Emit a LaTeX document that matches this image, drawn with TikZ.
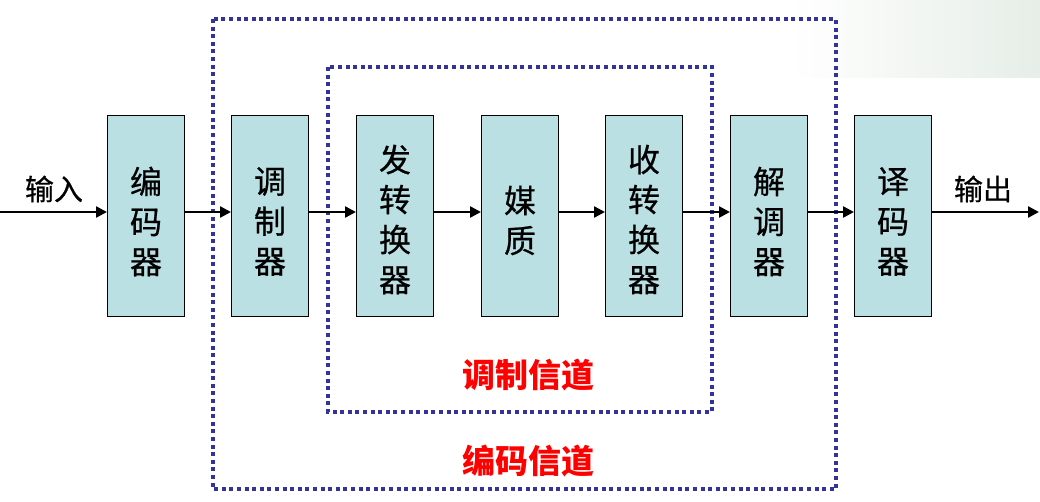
\documentclass[tikz,border=0pt]{standalone}
\usepackage{fontspec}
\newfontfamily\cjk{Noto Sans CJK SC}
\newfontfamily\cjkdark[FakeBold=0.6]{Noto Sans CJK SC}
\usetikzlibrary{arrows.meta}
\definecolor{boxfill}{RGB}{187,224,227}
\definecolor{dotblue}{RGB}{51,51,153}
\definecolor{chanred}{RGB}{255,0,0}
\definecolor{bgtint}{RGB}{230,238,231}
\tikzset{
  blockbox/.style={draw=black, line width=1pt, fill=boxfill, minimum width=77pt, minimum height=201pt,
    inner sep=0pt},
  blocktext/.style={align=center, inner sep=0pt, font=\cjkdark\fontsize{32}{40}\selectfont},
  sigarrow/.style={line width=2.4pt, -{Triangle[length=11pt,width=11pt]}},
  dotframe/.style={draw=dotblue, line width=4pt, dash pattern=on 4pt off 3.6pt},
  iolabel/.style={font=\cjkdark\fontsize{29}{30}\selectfont, inner sep=0pt},
  chanlabel/.style={font=\cjk\bfseries\fontsize{33}{34}\selectfont, text=chanred, inner sep=0pt}
}
\begin{document}
\begin{tikzpicture}[x=1pt,y=-1pt]
\useasboundingbox (0,0) rectangle (1040,501);
\shade[left color=white, right color=bgtint] (790,0) rectangle (1040,77);
% frames
\draw[dotframe] (213,19) rectangle (836,489);
\draw[dotframe] (328,67) rectangle (712,412);
% blocks
\node[blockbox] (enc) at (146,215.5) {};
\node[blockbox] (mod) at (270,215.5) {};
\node[blockbox] (tx)  at (395,215.5) {};
\node[blockbox] (med) at (520,215.5) {};
\node[blockbox] (rx)  at (644,215.5) {};
\node[blockbox] (dem) at (769,215.5) {};
\node[blockbox] (dec) at (893,215.5) {};
\node[blocktext] (enct) at ([yshift=-6pt]enc.center) {编\\码\\器};
\node[blocktext] (modt) at ([yshift=-6pt]mod.center) {调\\制\\器};
\node[blocktext] (txt)  at ([yshift=-4pt]tx.center) {发\\转\\换\\器};
\node[blocktext] (medt) at ([yshift=-5pt]med.center) {媒\\质};
\node[blocktext] (rxt)  at ([yshift=-4pt]rx.center) {收\\转\\换\\器};
\node[blocktext] (demt) at ([yshift=-6pt]dem.center) {解\\调\\器};
\node[blocktext] (dect) at ([yshift=-6pt]dec.center) {译\\码\\器};
\coordinate (in) at (0,212);
\coordinate (out) at (1039,212);
% arrows
\draw[sigarrow] (in) -- (in -| enc.west);
\foreach \a/\b in {enc/mod, mod/tx, tx/med, med/rx, rx/dem, dem/dec}
  \draw[sigarrow] (\a.east |- in) -- (\b.west |- in);
\draw[sigarrow] (dec.east |- in) -- (out);
% labels
\node[iolabel] (inlab) at (54,189) {输入};
\node[iolabel] (outlab) at (983,189) {输出};
\node[chanlabel] (modch) at (528,375) {调制信道};
\node[chanlabel] (encch) at (528,461) {编码信道};
\end{tikzpicture}
\end{document}
